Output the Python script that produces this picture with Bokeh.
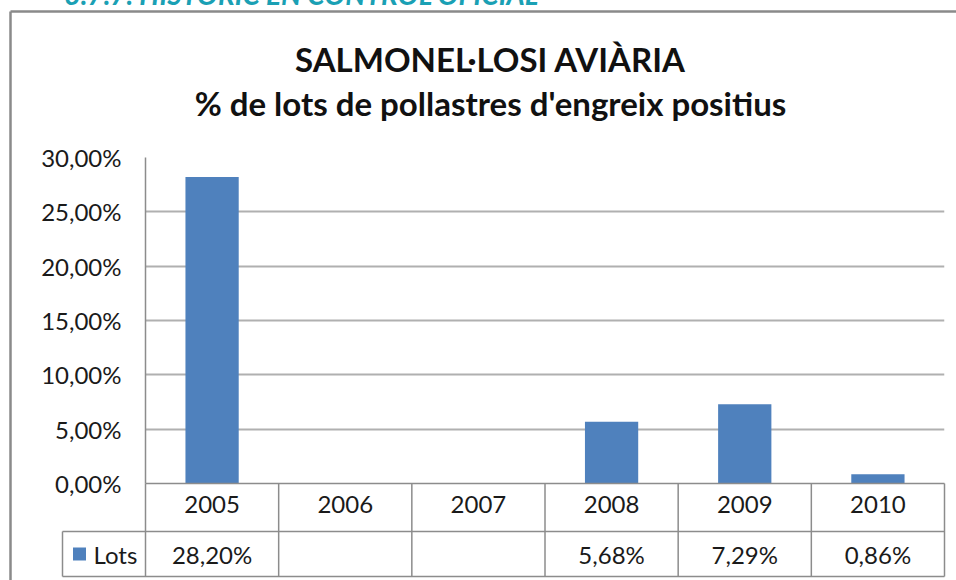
from bokeh.plotting import figure
from bokeh.models import Range1d, FactorRange, FixedTicker, ColumnDataSource
from bokeh.core.properties import value
from bokeh.embed import file_html
from bokeh.resources import INLINE

# ---- data ----
years = ["2005", "2006", "2007", "2008", "2009", "2010"]
lots = [28.20, None, None, 5.68, 7.29, 0.86]
y_ticks = [0, 5, 10, 15, 20, 25, 30]
page_heading = "3.7.7. HISTÒRIC EN CONTROL OFICIAL"
title_1 = "SALMONEL·LOSI AVIÀRIA"
title_2 = "% de lots de pollastres d'engreix positius"
series_name = "Lots"

FONT = "Lato"
BAR = "#4f81bd"
GRID = "#b0b0b0"
LINEC = "#8c8c8c"
TXT = "#1a1a1a"

W, H = 956, 580
L, R, T, B = 145, 12, 157, 97
fw, fh = W - L - R, H - T - B
upp_y = 30.0 / fh            # data units per pixel (y)
n = len(years)
upp_x = n / fw               # data units per pixel (x)

def px_x(px):   # canvas x -> data x
    return (px - L) * upp_x

def px_y(py):   # canvas y -> data y
    return 30.0 - (py - T) * upp_y

def fmt(v):
    return ("%.2f" % v).replace(".", ",") + "%"

p = figure(width=W, height=H, x_range=FactorRange(*years), y_range=Range1d(0, 30),
           output_backend="svg", toolbar_location=None,
           min_border_left=L, min_border_right=R, min_border_top=T, min_border_bottom=B)
p.outline_line_color = None
p.background_fill_color = "white"
p.border_fill_color = "white"

vals = [float("nan") if v is None else v for v in lots]
src = ColumnDataSource(dict(year=years, v=vals,
                            lab=["" if v is None else fmt(v) for v in lots]))
bars = p.vbar(x="year", top="v", width=0.4, source=src, fill_color=BAR, line_color=None)

# axes
p.yaxis.ticker = FixedTicker(ticks=y_ticks)
p.yaxis.major_label_overrides = {t: fmt(t) for t in y_ticks}
p.yaxis.axis_line_color = LINEC
p.yaxis.axis_line_width = 1.5
p.yaxis.major_tick_line_color = None
p.yaxis.minor_tick_line_color = None
p.yaxis.major_tick_out = 0
p.yaxis.major_tick_in = 0
p.yaxis.major_label_standoff = 24
p.yaxis.major_label_text_font = FONT
p.yaxis.major_label_text_font_size = "24px"
p.yaxis.major_label_text_color = TXT

p.xaxis.axis_line_color = LINEC
p.xaxis.axis_line_width = 1.5
p.xaxis.major_tick_line_color = None
p.xaxis.major_tick_out = 0
p.xaxis.major_tick_in = 0
p.xaxis.major_label_standoff = 12
p.xaxis.major_label_text_font = FONT
p.xaxis.major_label_text_font_size = "24px"
p.xaxis.major_label_text_color = TXT

p.xgrid.grid_line_color = None
p.ygrid.grid_line_color = GRID
p.ygrid.grid_line_width = 2

# data table lines below the plot
y1 = px_y(531)
y2 = px_y(576)
xl = px_x(62)
x0s = list(range(n + 1)) + [xl, xl, xl]
x1s = list(range(n + 1)) + [n, n, xl]
y0s = [0] * (n + 1) + [y1, y2, y1]
y1s = [y2] * (n + 1) + [y1, y2, y2]
seg = p.segment(x0=x0s, y0=y0s, x1=x1s, y1=y1s, line_color=LINEC, line_width=1.5)
seg.level = "overlay"

# outer chart frame (extends beyond the picture at right and bottom)
fx, fy = px_x(10), px_y(11)
frame = p.segment(x0=[fx, fx], y0=[fy, fy], x1=[fx, px_x(2000)], y1=[px_y(2000), fy],
                  line_color="#8a8a8a", line_width=2.5)
frame.level = "overlay"

# values row of the data table
ymid = (y1 + y2) / 2.0
vt = p.text(x="year", y=ymid, text="lab", source=src, text_align="center",
            text_baseline="middle", text_font=value(FONT), text_font_size="24px",
            text_color=TXT)
vt.level = "overlay"

# legend key in the table
key = p.rect(x=[px_x(79)], y=[ymid], width=13 * upp_x, height=13 * upp_y,
             fill_color=BAR, line_color=None)
key.level = "overlay"
kt = p.text(x=[px_x(93)], y=[ymid], text=[series_name], text_align="left",
            text_baseline="middle", text_font=value(FONT), text_font_size="24px",
            text_color=TXT)
kt.level = "overlay"

# titles
tx = px_x(490)
t1 = p.text(x=[tx], y=[px_y(58)], text=[title_1], text_align="center",
            text_baseline="middle", text_font=value(FONT), text_font_style="bold",
            text_font_size="33px", text_color="#111111")
t1.level = "overlay"
t2 = p.text(x=[tx], y=[px_y(102)], text=[title_2], text_align="center",
            text_baseline="middle", text_font=value(FONT), text_font_style="bold",
            text_font_size="33px", text_color="#111111")
t2.level = "overlay"

# page heading above the chart (cut off by the top edge, as in the source)
hd = p.text(x=[px_x(64)], y=[px_y(-7)], text=[page_heading], text_align="left",
            text_baseline="alphabetic", text_font=value(FONT),
            text_font_style="bold italic", text_font_size="28px", text_color="#1aa0b4")
hd.level = "overlay"

open("out.html", "w").write(file_html(p, INLINE))
